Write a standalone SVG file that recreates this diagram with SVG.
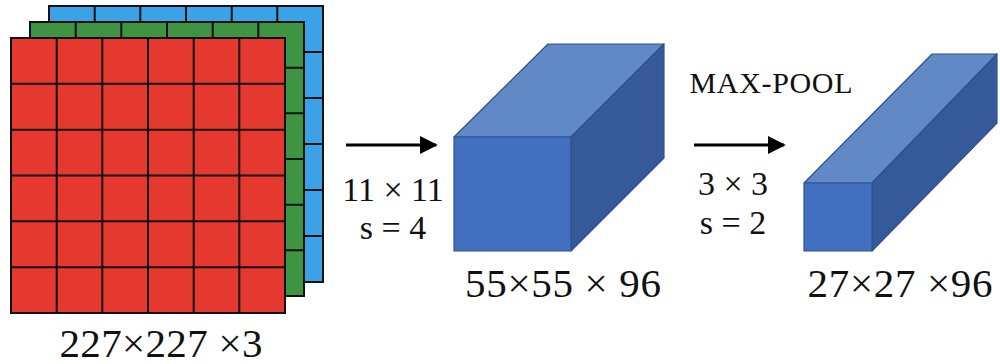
<svg xmlns="http://www.w3.org/2000/svg" width="1000" height="364" viewBox="0 0 1000 364">
<defs>
<style>
.grid{stroke:#111;stroke-width:2;fill:none}
.t{font-family:"Liberation Serif","DejaVu Serif",serif;fill:#111}
.edge{stroke:#2f528f;stroke-width:1.2;stroke-linejoin:round}
.front{fill:#4270be}
.top{fill:#6189c6}
.side{fill:#36599a}
.conn{stroke:#000;stroke-width:3;fill:none}
</style>
<marker id="ah" viewBox="0 0 10 10" refX="9" refY="5" markerWidth="6" markerHeight="7.5" markerUnits="strokeWidth" orient="auto">
<path d="M0,0 L10,5 L0,10 z" fill="#000"/>
</marker>
</defs>
<g id="input-volume">
<g id="blue-channel">
<rect x="49" y="6" width="274" height="276" fill="#3ba2e8"/>
<path class="grid" d="M49,6 H323 V282 H49 Z M94.7,6 V282 M140.3,6 V282 M186,6 V282 M231.7,6 V282 M277.3,6 V282 M49,52 H323 M49,98 H323 M49,144 H323 M49,190 H323 M49,236 H323"/>
</g>
<g id="green-channel">
<rect x="30" y="22" width="274" height="274" fill="#3f9441"/>
<path class="grid" d="M30,22 H304 V296 H30 Z M75.7,22 V296 M121.3,22 V296 M167,22 V296 M212.7,22 V296 M258.3,22 V296 M30,67.7 H304 M30,113.3 H304 M30,159 H304 M30,204.7 H304 M30,250.3 H304"/>
</g>
<g id="red-channel">
<rect x="11" y="38" width="274" height="275" fill="#e5382e"/>
<path class="grid" d="M11,38 H285 V313 H11 Z M56.7,38 V313 M102.3,38 V313 M148,38 V313 M193.7,38 V313 M239.3,38 V313 M11,83.8 H285 M11,129.7 H285 M11,175.5 H285 M11,221.3 H285 M11,267.2 H285"/>
</g>
<text class="t" x="161" y="357" font-size="41" text-anchor="middle" textLength="203" lengthAdjust="spacing">227×227 ×3</text>
</g>
<g id="conv-volume">
<polygon class="top edge" points="454,137 548,44 664,44 571,137"/>
<polygon class="side edge" points="571,137 664,44 664,158 571,251"/>
<rect class="front edge" x="454" y="137" width="117" height="114"/>
<text class="t" x="563" y="297" font-size="41" text-anchor="middle" textLength="196" lengthAdjust="spacing">55×55 × 96</text>
</g>
<g id="pool-volume">
<polygon class="top edge" points="804,183 932,54 997,54 872,183"/>
<polygon class="side edge" points="872,183 997,54 997,123 872,251"/>
<rect class="front edge" x="804" y="183" width="68" height="68"/>
<text class="t" x="900" y="297" font-size="41" text-anchor="middle" textLength="185" lengthAdjust="spacing">27×27 ×96</text>
</g>
<g id="connectors">
<g id="conv-arrow">
<line class="conn" x1="346" y1="145" x2="436" y2="145" marker-end="url(#ah)"/>
<text class="t" x="393" y="201" font-size="34" text-anchor="middle">11 × 11</text>
<text class="t" x="393" y="239" font-size="34" text-anchor="middle">s = 4</text>
</g>
<g id="pool-arrow">
<line class="conn" x1="694" y1="145" x2="784" y2="145" marker-end="url(#ah)"/>
<text class="t" x="771" y="93" font-size="30" text-anchor="middle" textLength="163" lengthAdjust="spacing">MAX-POOL</text>
<text class="t" x="733" y="195" font-size="34" text-anchor="middle">3 × 3</text>
<text class="t" x="733" y="234" font-size="34" text-anchor="middle">s = 2</text>
</g>
</g>
</svg>
